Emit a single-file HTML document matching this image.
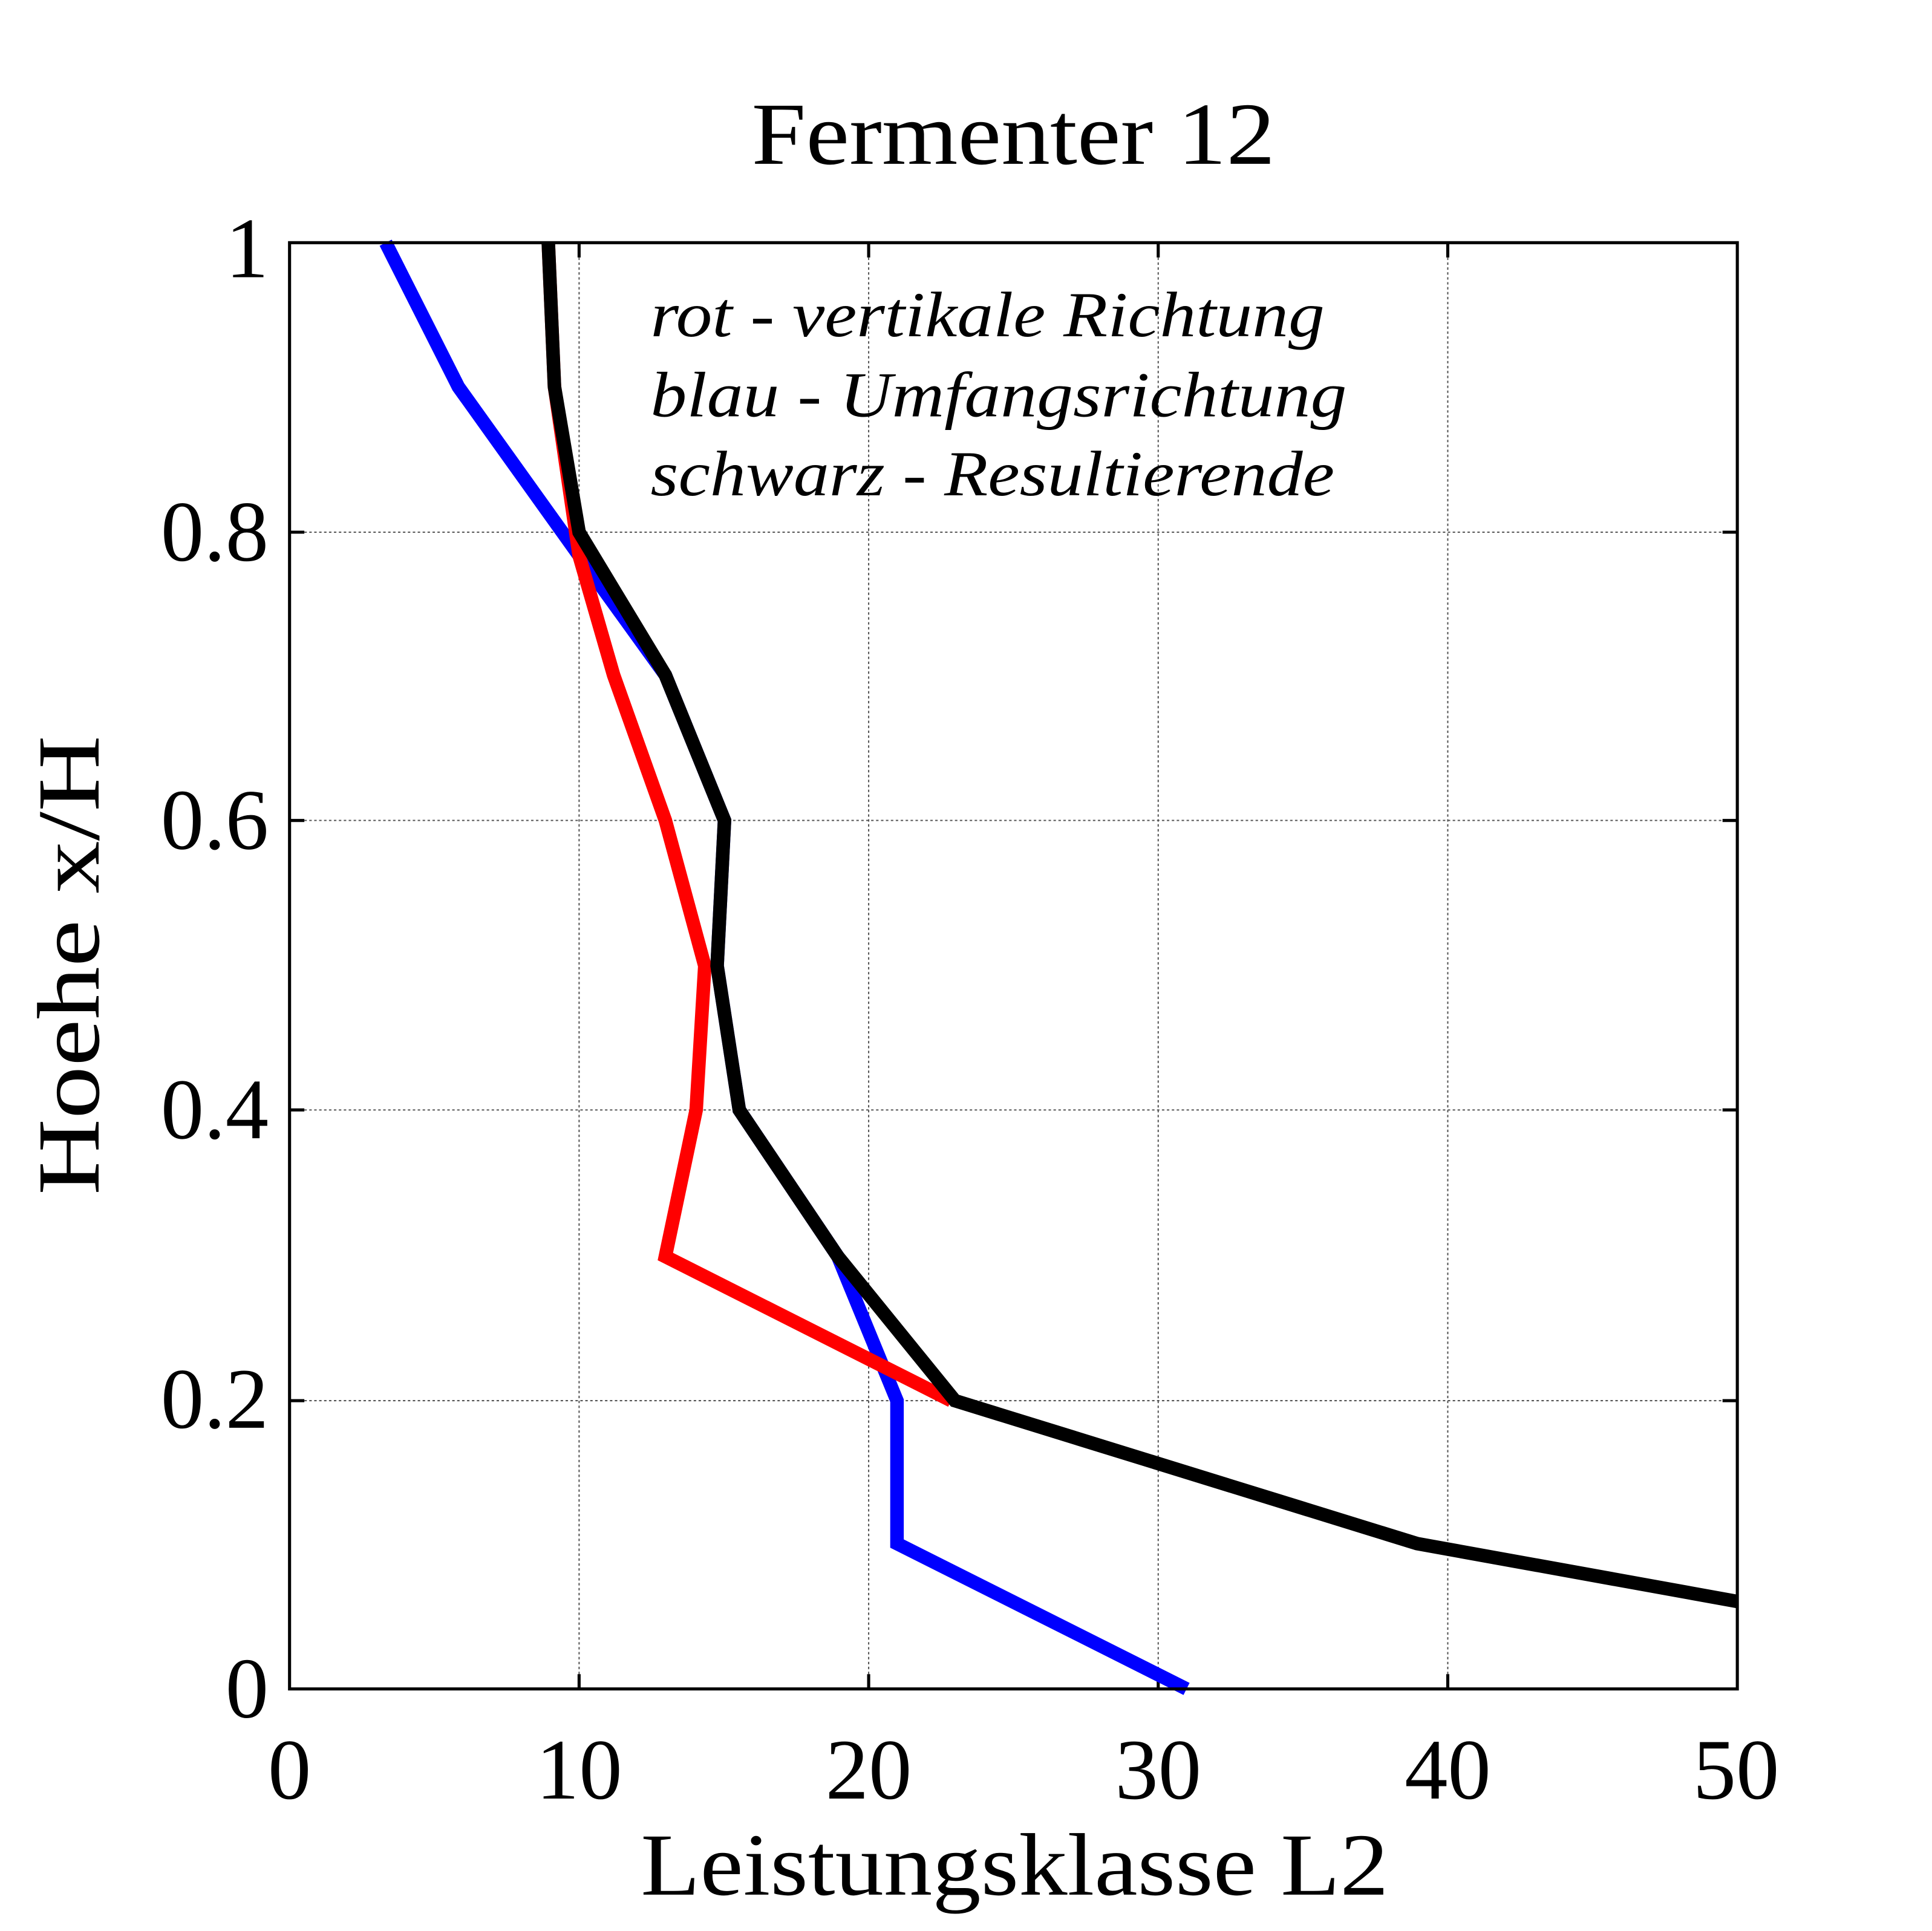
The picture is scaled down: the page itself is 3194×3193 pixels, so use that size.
<!DOCTYPE html>
<html><head><meta charset="utf-8"><style>html,body{margin:0;padding:0;background:#fff}svg{display:block}</style></head>
<body>
<svg width="3194" height="3193" viewBox="0 0 1568 1567.5" xmlns="http://www.w3.org/2000/svg" font-family="Liberation Serif, serif">
<rect width="1570" height="1570" fill="#fff"/>
<g stroke="#555" stroke-width="1" stroke-dasharray="2,2">
<line x1="470" y1="197" x2="470" y2="1371"/><line x1="705" y1="197" x2="705" y2="1371"/>
<line x1="940" y1="197" x2="940" y2="1371"/><line x1="1175" y1="197" x2="1175" y2="1371"/>
<line x1="235" y1="432" x2="1410" y2="432"/><line x1="235" y1="666" x2="1410" y2="666"/>
<line x1="235" y1="901" x2="1410" y2="901"/><line x1="235" y1="1137" x2="1410" y2="1137"/>
</g>
<g stroke="#000" stroke-width="2.5">
<line x1="470" y1="1371" x2="470" y2="1359"/><line x1="705" y1="1371" x2="705" y2="1359"/><line x1="940" y1="1371" x2="940" y2="1359"/><line x1="1175" y1="1371" x2="1175" y2="1359"/>
<line x1="470" y1="197" x2="470" y2="209"/><line x1="705" y1="197" x2="705" y2="209"/><line x1="940" y1="197" x2="940" y2="209"/><line x1="1175" y1="197" x2="1175" y2="209"/>
<line x1="235" y1="432" x2="247" y2="432"/><line x1="235" y1="666" x2="247" y2="666"/><line x1="235" y1="901" x2="247" y2="901"/><line x1="235" y1="1137" x2="247" y2="1137"/>
<line x1="1410" y1="432" x2="1398" y2="432"/><line x1="1410" y1="666" x2="1398" y2="666"/><line x1="1410" y1="901" x2="1398" y2="901"/><line x1="1410" y1="1137" x2="1398" y2="1137"/>
</g>
<g fill="none" stroke-width="11" stroke-linejoin="miter">
<polyline stroke="#00f" points="313,197 372,314 470,451 540,548 588,666 582,784 600,901 680,1020 728,1137 728,1253 963,1371"/>
<polyline stroke="#f00" points="445,197 450,314 470,451 498,548 540,666 572,784 565,901 540,1020 772,1137"/>
<polyline stroke="#000" points="445,197 450,314 470,432 540,548 588,666 582,784 600,901 680,1020 775,1137 1150,1253 1410,1300"/>
</g>
<rect x="235" y="197" width="1175" height="1174" fill="none" stroke="#000" stroke-width="2.5"/>
<text x="610" y="133" font-size="72" textLength="425" lengthAdjust="spacingAndGlyphs">Fermenter 12</text>
<g font-size="70" text-anchor="middle">
<text x="235" y="1460">0</text><text x="470" y="1460">10</text><text x="705" y="1460">20</text><text x="940" y="1460">30</text><text x="1175" y="1460">40</text><text x="1409" y="1460">50</text>
</g>
<g font-size="70" text-anchor="end">
<text x="218" y="1394">0</text><text x="218" y="1159">0.2</text><text x="218" y="924">0.4</text><text x="218" y="689">0.6</text><text x="218" y="455">0.8</text><text x="218" y="225">1</text>
</g>
<text x="520" y="1538" font-size="72" textLength="607" lengthAdjust="spacingAndGlyphs">Leistungsklasse L2</text>
<text transform="translate(80,970) rotate(-90)" font-size="72" textLength="373" lengthAdjust="spacingAndGlyphs">Hoehe x/H</text>
<g font-size="52" font-style="italic">
<text x="528" y="273" textLength="547" lengthAdjust="spacingAndGlyphs">rot - vertikale Richtung</text>
<text x="528" y="338" textLength="565" lengthAdjust="spacingAndGlyphs">blau - Umfangsrichtung</text>
<text x="528" y="402" textLength="555" lengthAdjust="spacingAndGlyphs">schwarz - Resultierende</text>
</g>
</svg>
</body></html>
